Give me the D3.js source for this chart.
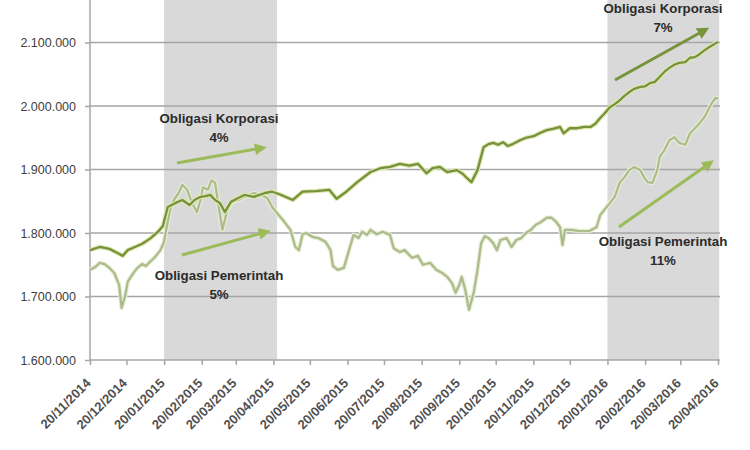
<!DOCTYPE html>
<html><head><meta charset="utf-8">
<script src="https://cdn.jsdelivr.net/npm/d3@7"></script>
<style>body{margin:0;background:#fff}svg{display:block}</style>
</head><body><svg id="c" width="750" height="450"></svg>
<script>
const yTicks = [1600000, 1700000, 1800000, 1900000, 2000000, 2100000];
const xTickLabels = ["20/11/2014","20/12/2014","20/01/2015","20/02/2015","20/03/2015","20/04/2015","20/05/2015","20/06/2015","20/07/2015","20/08/2015","20/09/2015","20/10/2015","20/11/2015","20/12/2015","20/01/2016","20/02/2016","20/03/2016","20/04/2016"];
const shadedPeriods = [["2015-01-20","2015-04-23"],["2016-01-20","2016-04-21"]];

const corpDates = ["2014-11-20","2014-11-28","2014-12-06","2014-12-13","2014-12-17","2014-12-21","2014-12-27","2015-01-02","2015-01-09","2015-01-15","2015-01-19","2015-01-23","2015-01-29","2015-02-04","2015-02-10","2015-02-14","2015-02-19","2015-02-23","2015-02-27","2015-03-03","2015-03-07","2015-03-11","2015-03-16","2015-03-22","2015-03-27","2015-04-04","2015-04-13","2015-04-19","2015-04-25","2015-05-06","2015-05-14","2015-05-25","2015-06-05","2015-06-11","2015-06-19","2015-06-28","2015-07-09","2015-07-17","2015-07-25","2015-08-02","2015-08-10","2015-08-17","2015-08-24","2015-08-29","2015-09-04","2015-09-10","2015-09-18","2015-09-23","2015-09-26","2015-09-30","2015-10-05","2015-10-10","2015-10-14","2015-10-18","2015-10-22","2015-10-26","2015-10-30","2015-11-03","2015-11-09","2015-11-14","2015-11-21","2015-11-25","2015-12-01","2015-12-06","2015-12-12","2015-12-15","2015-12-20","2015-12-26","2016-01-01","2016-01-06","2016-01-10","2016-01-14","2016-01-17","2016-01-22","2016-01-26","2016-01-30","2016-02-03","2016-02-07","2016-02-11","2016-02-16","2016-02-20","2016-02-24","2016-02-28","2016-03-03","2016-03-07","2016-03-11","2016-03-15","2016-03-19","2016-03-24","2016-03-28","2016-04-01","2016-04-05","2016-04-09","2016-04-13","2016-04-20"];
const corpValues = [1773,1778,1775,1768,1764,1773,1778,1783,1792,1802,1811,1841,1847,1852,1844,1852,1857,1858,1860,1852,1847,1833,1849,1855,1860,1857,1863,1865,1861,1852,1865,1866,1868,1854,1865,1880,1896,1902,1904,1909,1906,1909,1894,1902,1904,1896,1899,1893,1887,1880,1899,1935,1940,1942,1939,1943,1937,1940,1946,1950,1953,1957,1962,1964,1967,1957,1965,1965,1967,1967,1972,1981,1987,1998,2003,2009,2016,2022,2027,2030,2031,2036,2038,2046,2054,2060,2065,2068,2069,2076,2077,2082,2088,2093,2101].map(v => v * 1000);

const govDates = ["2014-11-20","2014-11-24","2014-11-28","2014-12-02","2014-12-06","2014-12-10","2014-12-14","2014-12-16","2014-12-19","2014-12-21","2014-12-25","2014-12-29","2015-01-02","2015-01-05","2015-01-08","2015-01-12","2015-01-17","2015-01-20","2015-01-22","2015-01-25","2015-01-28","2015-02-01","2015-02-04","2015-02-08","2015-02-12","2015-02-16","2015-02-19","2015-02-21","2015-02-25","2015-02-28","2015-03-03","2015-03-06","2015-03-09","2015-03-13","2015-03-17","2015-03-22","2015-03-27","2015-04-04","2015-04-10","2015-04-15","2015-04-19","2015-04-23","2015-04-28","2015-05-04","2015-05-08","2015-05-11","2015-05-14","2015-05-17","2015-05-22","2015-05-27","2015-06-02","2015-06-06","2015-06-08","2015-06-12","2015-06-17","2015-06-22","2015-06-25","2015-06-29","2015-07-02","2015-07-06","2015-07-09","2015-07-14","2015-07-19","2015-07-25","2015-07-28","2015-08-02","2015-08-06","2015-08-12","2015-08-17","2015-08-21","2015-08-27","2015-09-01","2015-09-06","2015-09-10","2015-09-14","2015-09-17","2015-09-20","2015-09-22","2015-09-25","2015-09-28","2015-10-02","2015-10-05","2015-10-08","2015-10-11","2015-10-14","2015-10-18","2015-10-21","2015-10-24","2015-10-29","2015-11-02","2015-11-06","2015-11-10","2015-11-14","2015-11-18","2015-11-22","2015-11-26","2015-12-01","2015-12-05","2015-12-09","2015-12-12","2015-12-14","2015-12-16","2015-12-21","2015-12-28","2016-01-05","2016-01-11","2016-01-14","2016-01-18","2016-01-22","2016-01-26","2016-01-30","2016-02-03","2016-02-07","2016-02-11","2016-02-16","2016-02-19","2016-02-22","2016-02-26","2016-03-01","2016-03-03","2016-03-07","2016-03-11","2016-03-15","2016-03-19","2016-03-24","2016-03-28","2016-04-01","2016-04-05","2016-04-09","2016-04-12","2016-04-15","2016-04-18","2016-04-20"];
const govValues = [1742,1746,1753,1751,1745,1737,1718,1682,1701,1723,1735,1745,1751,1748,1754,1761,1773,1786,1808,1836,1852,1863,1876,1868,1847,1833,1852,1872,1868,1883,1879,1841,1805,1836,1849,1852,1857,1863,1860,1855,1841,1831,1820,1805,1778,1773,1798,1800,1794,1792,1786,1773,1748,1742,1745,1778,1797,1792,1802,1797,1805,1798,1802,1797,1776,1770,1773,1761,1764,1750,1753,1742,1737,1731,1721,1706,1718,1731,1710,1679,1707,1742,1784,1795,1792,1784,1773,1789,1792,1778,1789,1792,1800,1805,1813,1817,1824,1824,1817,1809,1781,1805,1805,1803,1803,1809,1828,1838,1847,1857,1879,1888,1899,1904,1899,1888,1880,1879,1899,1920,1931,1946,1951,1942,1939,1957,1965,1973,1983,1994,2005,2013,2012].map(v => v * 1000);

const annotations = [
  {lines:["Obligasi Korporasi","4%"], x:219, y:123},
  {lines:["Obligasi Pemerintah","5%"], x:219, y:280},
  {lines:["Obligasi Korporasi","7%"], x:663, y:13},
  {lines:["Obligasi Pemerintah","11%"], x:663, y:246}
];
const arrows = [
  {x1:177,y1:163,x2:262,y2:148,color:"#9bbb59"},
  {x1:182,y1:255,x2:266,y2:232,color:"#9bbb59"},
  {x1:615,y1:80,x2:705,y2:30,color:"#77933c"},
  {x1:619,y1:227,x2:710,y2:163,color:"#9bbb59"}
];

const parse = d3.timeParse("%Y-%m-%d");
const svg = d3.select("#c");
const L = 90, R = 718, T = 0, B = 360;
const FONT = "Liberation Sans, Arial, sans-serif";
const x = d3.scaleTime().domain([parse("2014-11-20"), parse("2016-04-20")]).range([L, R]);
const y = d3.scaleLinear().domain([1600000, 2100000]).range([B, 42.5]);
const tickDates = xTickLabels.map(s => d3.timeParse("%d/%m/%Y")(s));

// shaded periods
svg.selectAll("rect.shade").data(shadedPeriods).join("rect")
  .attr("x", d => x(parse(d[0]))).attr("y", T)
  .attr("width", d => x(parse(d[1])) - x(parse(d[0]))).attr("height", B - T)
  .attr("fill", "#d9d9d9");

// gridlines
svg.selectAll("line.grid").data(yTicks.slice(1)).join("line")
  .attr("x1", L).attr("x2", 720).attr("y1", d => y(d)).attr("y2", d => y(d))
  .attr("stroke", "#a6a6a6").attr("stroke-width", 1.5);

// y axis
const yAxis = svg.append("g").attr("transform", `translate(${L},0)`)
  .call(d3.axisLeft(y).tickValues(yTicks).tickSize(5).tickPadding(9)
    .tickFormat(d => d3.format(",")(d).replace(/,/g, ".")));
yAxis.select(".domain").remove();
svg.append("line").attr("x1", L).attr("x2", L).attr("y1", 0).attr("y2", B)
  .attr("stroke", "#a6a6a6").attr("stroke-width", 1.5);
yAxis.selectAll("line").attr("stroke", "#a6a6a6").attr("stroke-width", 1.5);
yAxis.selectAll("text").attr("font-family", FONT)
  .attr("font-size", 12.5).attr("fill", "#404040");

// x axis
const xAxis = svg.append("g").attr("transform", `translate(0,${B})`)
  .call(d3.axisBottom(x).tickValues(tickDates).tickSize(5).tickFormat(d3.timeFormat("%d/%m/%Y")));
xAxis.select(".domain").attr("stroke", "#a6a6a6").attr("stroke-width", 1.5)
  .attr("d", `M${L},0H720`);
xAxis.selectAll("line").attr("stroke", "#a6a6a6").attr("stroke-width", 1.5);
xAxis.selectAll("text")
  .attr("font-family", FONT).attr("font-size", 13)
  .attr("font-weight", "bold").attr("fill", "#505050")
  .attr("text-anchor", "end").attr("dy", null).attr("y", 0)
  .attr("transform", "translate(1,24) rotate(-45)");

// lines
const line = d3.line().x(d => x(d[0])).y(d => y(d[1])).curve(d3.curveLinear);
const govData = govDates.map((d, i) => [parse(d), govValues[i]]);
const corpData = corpDates.map((d, i) => [parse(d), corpValues[i]]);
[[govData, "#e9efd6", "#adbc8c"], [corpData, "#dfe8b0", "#76923c"]].forEach(([data, halo, col]) => {
  svg.append("path").datum(data).attr("d", line).attr("fill", "none")
    .attr("stroke", halo).attr("stroke-width", 4.5).attr("stroke-linejoin", "round");
  svg.append("path").datum(data).attr("d", line).attr("fill", "none")
    .attr("stroke", col).attr("stroke-width", 2.3).attr("stroke-linejoin", "round");
});

// arrows
const defs = svg.append("defs");
arrows.forEach((a, i) => {
  defs.append("marker").attr("id", "ah" + i).attr("viewBox", "0 0 10 10")
    .attr("refX", 6).attr("refY", 5).attr("markerWidth", 4).attr("markerHeight", 4)
    .attr("orient", "auto")
    .append("path").attr("d", "M0,0L10,5L0,10z").attr("fill", a.color);
  svg.append("line").attr("x1", a.x1).attr("y1", a.y1).attr("x2", a.x2).attr("y2", a.y2)
    .attr("stroke", a.color).attr("stroke-width", 3).attr("marker-end", `url(#ah${i})`);
});

// annotations
annotations.forEach(a => {
  const t = svg.append("text").attr("x", a.x).attr("y", a.y).attr("text-anchor", "middle")
    .attr("font-family", FONT).attr("font-size", 13.3)
    .attr("font-weight", "bold").attr("fill", "#2b2b2b");
  a.lines.forEach((s, i) => t.append("tspan").attr("x", a.x).attr("dy", i ? 19 : 0).text(s));
});
</script></body></html>
